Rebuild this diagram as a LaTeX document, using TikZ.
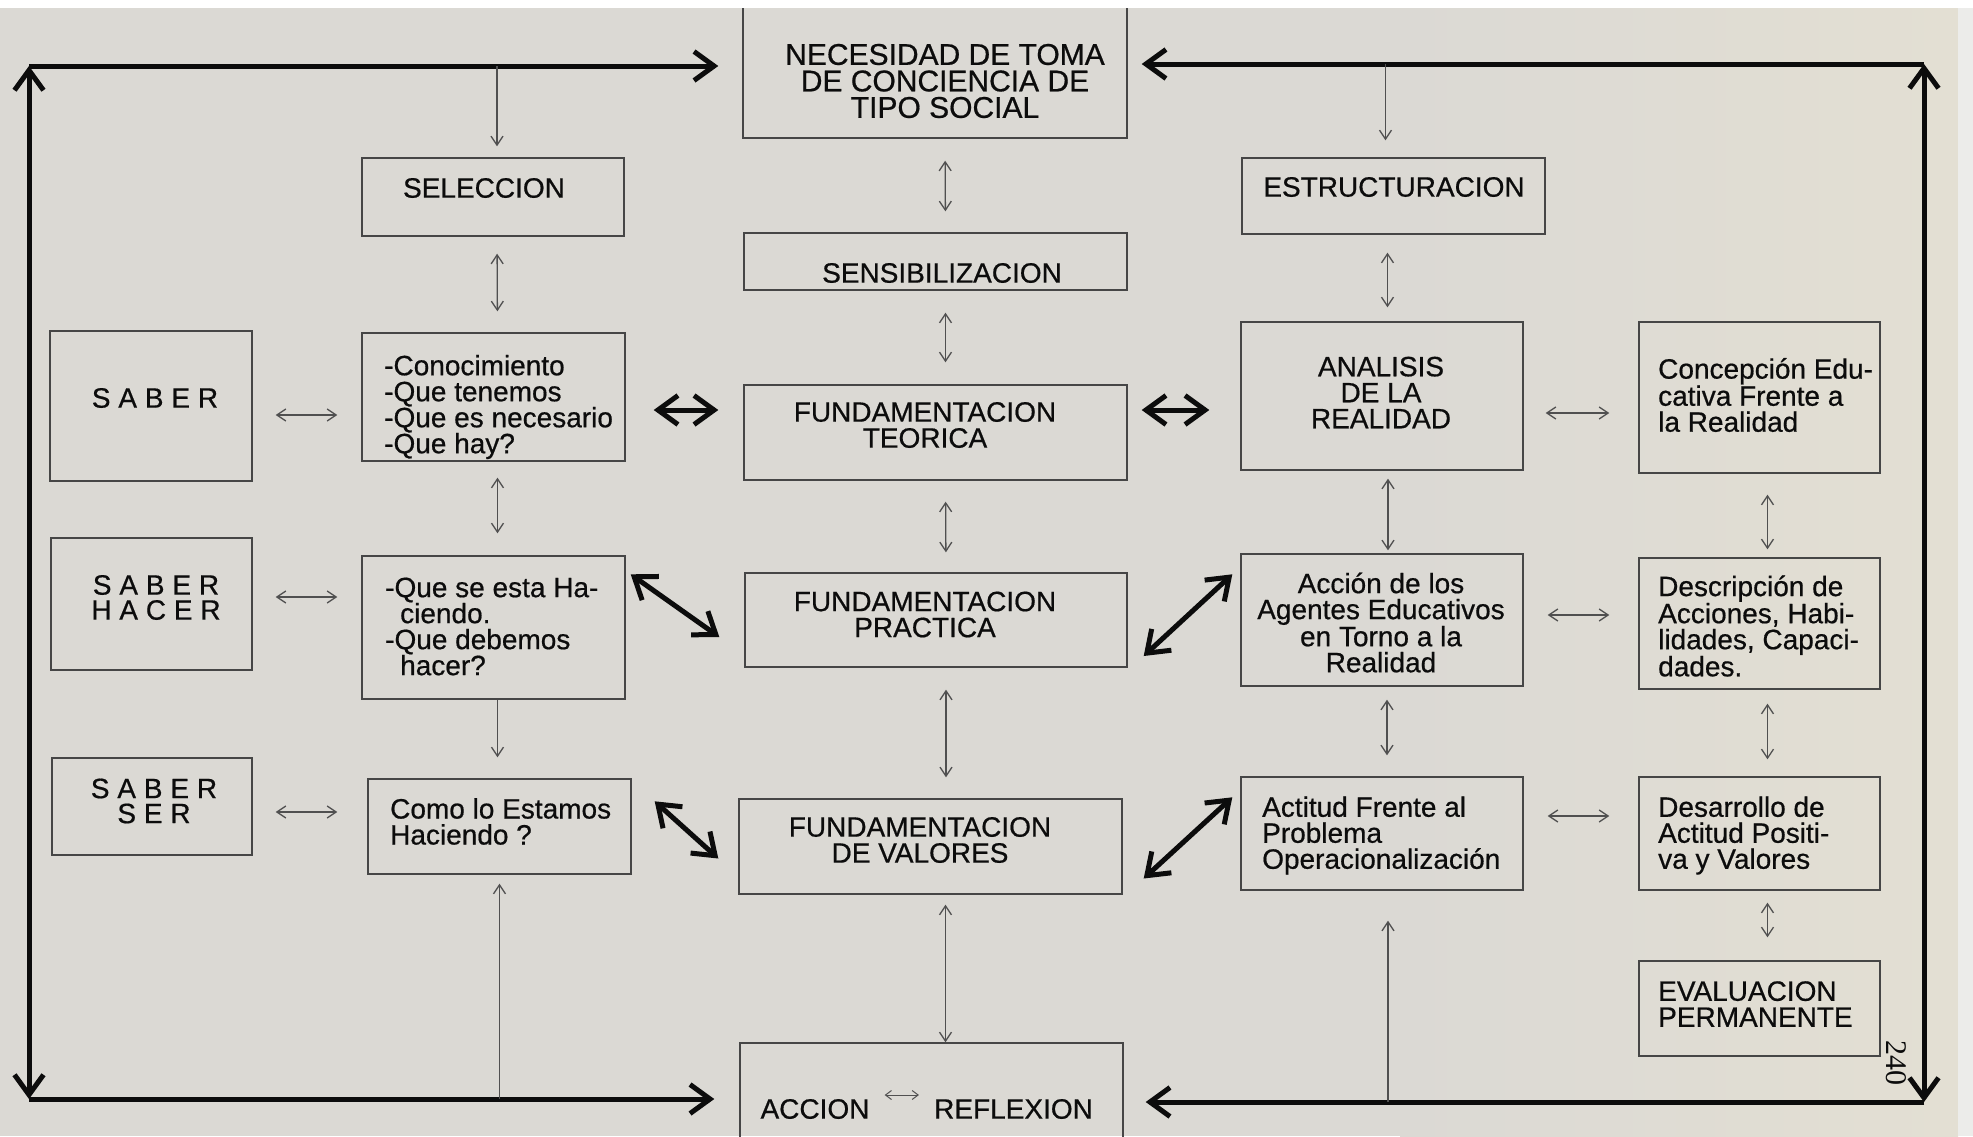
\documentclass[tikz,border=0pt]{standalone}
\usepackage{fontspec}
\setmainfont{Liberation Sans}[FakeBold=0.6]
\newfontfamily\pagenumfont{Liberation Serif}
\usetikzlibrary{arrows.meta}
\definecolor{paper}{RGB}{219,217,212}
\definecolor{papercream}{RGB}{227,223,211}
\definecolor{paperedge}{RGB}{236,236,234}
\definecolor{boxline}{RGB}{70,70,70}
\definecolor{linkgray}{RGB}{80,80,80}
\definecolor{ink}{RGB}{12,12,12}

\begin{document}
\begin{tikzpicture}[
  x=1pt, y=-1pt,
  box/.style={rectangle, draw=boxline, line width=1.4pt, inner sep=0pt},
  boxtxt/.style={text=ink, inner sep=0pt, align=center,
    font=\fontsize{28}{26}\selectfont},
  lefttxt/.style={boxtxt, align=left, anchor=west},
  spaced/.style={boxtxt, font=\fontsize{28}{25}\selectfont\addfontfeature{LetterSpace=28}},
  link/.style={draw=linkgray, line width=1.3pt,
    >={Straight Barb[length=9pt,width=12pt]}},
  smalllink/.style={draw=linkgray, line width=1pt,
    >={Straight Barb[length=6pt,width=9pt]}},
  biglink/.style={draw=ink, line width=5pt,
    >={Straight Barb[length=20pt,width=29pt]}}
]
  \useasboundingbox (0,0) rectangle (1973,1136);
  \clip (0,0) rectangle (1973,1136);
  % paper
  \fill[paper] (0,0) rectangle (1973,1136);
  \shade[left color=paper, right color=papercream] (1400,0) rectangle (1958,1136);
  \fill[paperedge] (1958,0) rectangle (1973,1136);

  % centre column
  \node[box, minimum width=384pt, minimum height=134pt] (nec) at (935,71) {};
  \node[boxtxt, font=\fontsize{30}{26.5}\selectfont] (nec-t) at (945,81)
    {NECESIDAD DE TOMA\\DE CONCIENCIA DE\\TIPO SOCIAL};
  \node[box, minimum width=383pt, minimum height=57pt] (sens) at (935.5,261.5) {};
  \node[boxtxt] (sens-t) at (942,273) {SENSIBILIZACION};
  \node[box, minimum width=383pt, minimum height=95pt] (ft) at (935.5,432.5) {};
  \node[boxtxt] (ft-t) at (925,425) {FUNDAMENTACION\\TEORICA};
  \node[box, minimum width=382pt, minimum height=94pt] (fp) at (936,620) {};
  \node[boxtxt] (fp-t) at (925,614.5) {FUNDAMENTACION\\PRACTICA};
  \node[box, minimum width=383pt, minimum height=95pt] (fv) at (930.5,846.5) {};
  \node[boxtxt] (fv-t) at (920,840) {FUNDAMENTACION\\DE VALORES};
  \node[box, minimum width=383pt, minimum height=114pt] (accref) at (931.5,1100) {};
  \node[boxtxt] (accion-t) at (815,1109) {ACCION};
  \node[boxtxt] (refl-t) at (1013.5,1109) {REFLEXION};

  % left columns
  \node[box, minimum width=262pt, minimum height=78pt] (sel) at (493,197) {};
  \node[boxtxt] (sel-t) at (484,188) {SELECCION};
  \node[box, minimum width=263pt, minimum height=128pt] (conoc) at (493.5,397) {};
  \node[lefttxt] (conoc-t) at (384,407)
    {-Conocimiento\\-Que tenemos\\-Que es necesario\\-Que hay?};
  \node[box, minimum width=263pt, minimum height=143pt] (queh) at (493.5,627.5) {};
  \node[lefttxt] (queh-t) at (385,626.5)
    {-Que se esta Ha-\\\hspace*{15pt}ciendo.\\-Que debemos\\\hspace*{15pt}hacer?};
  \node[box, minimum width=263pt, minimum height=95pt] (como) at (499.5,826.5) {};
  \node[lefttxt] (como-t) at (390,821.5) {Como lo Estamos\\Haciendo ?};
  \node[box, minimum width=202pt, minimum height=150pt] (saber) at (151,406) {};
  \node[spaced] (saber-t) at (155,398) {SABER};
  \node[box, minimum width=201pt, minimum height=132pt] (saberh) at (151.5,604) {};
  \node[spaced] (saberh-t) at (156,597.5) {SABER\\HACER};
  \node[box, minimum width=200pt, minimum height=97pt] (sabers) at (152,806.5) {};
  \node[spaced] (sabers-t) at (154,801) {SABER\\SER};

  % right columns
  \node[box, minimum width=303pt, minimum height=76pt] (estr) at (1393.5,196) {};
  \node[boxtxt] (estr-t) at (1394,187) {ESTRUCTURACION};
  \node[box, minimum width=282pt, minimum height=148pt] (anal) at (1382,396) {};
  \node[boxtxt] (anal-t) at (1381,392.5) {ANALISIS\\DE LA\\REALIDAD};
  \node[box, minimum width=282pt, minimum height=132pt] (acc) at (1382,620) {};
  \node[boxtxt] (acc-t) at (1381,622.5)
    {Acción de los\\Agentes Educativos\\en Torno a la\\Realidad};
  \node[box, minimum width=282pt, minimum height=113pt] (act) at (1382,833.5) {};
  \node[lefttxt] (act-t) at (1262,835.5)
    {Actitud Frente al\\Problema\\Operacionalización};
  \node[box, minimum width=241pt, minimum height=151pt] (conc) at (1759.5,397.5) {};
  \node[lefttxt] (conc-t) at (1658,395)
    {Concepción Edu-\\cativa Frente a\\la Realidad};
  \node[box, minimum width=241pt, minimum height=131pt] (descr) at (1759.5,623.5) {};
  \node[lefttxt] (descr-t) at (1658,626)
    {Descripción de\\Acciones, Habi-\\lidades, Capaci-\\dades.};
  \node[box, minimum width=241pt, minimum height=113pt] (desar) at (1759.5,833.5) {};
  \node[lefttxt] (desar-t) at (1658,835.5)
    {Desarrollo de\\Actitud Positi-\\va y Valores};
  \node[box, minimum width=241pt, minimum height=95pt] (eval) at (1759.5,1008.5) {};
  \node[lefttxt] (eval-t) at (1658,1004) {EVALUACION\\PERMANENTE};

  \node[text=ink, inner sep=0pt, rotate=-90,
    font=\pagenumfont\fontsize{30}{30}\selectfont] (pagenum) at (1896,1063) {240};

  % frame
  \coordinate (tl) at (29,66);
  \coordinate (tr) at (1924,64);
  \coordinate (bl) at (29,1099);
  \coordinate (br) at (1924,1102);
  \draw[biglink, <->] (bl) -- (tl);
  \draw[biglink, <->] (br) -- (tr);
  \draw[biglink, ->, shorten >=24pt] (tl) -- (nec.west |- tl);
  \draw[biglink, ->, shorten >=14pt] (tr) -- (nec.east |- tr);
  \draw[biglink, ->, shorten >=25pt] (bl) -- (accref.west |- bl);
  \draw[biglink, ->, shorten >=22pt] (br) -- (accref.east |- br);

  % thin links, left
  \draw[link, ->, shorten >=11pt] ([xshift=4pt]sel.north |- tl) -- ([xshift=4pt]sel.north);
  \draw[link, <->, shorten <=17pt, shorten >=21pt] ([xshift=4pt]sel.south) -- ([xshift=4pt]conoc.north);
  \draw[link, <->, shorten <=16pt, shorten >=22pt] ([xshift=4pt]conoc.south) -- ([xshift=4pt]queh.north);
  \draw[link, ->, shorten >=21pt] ([xshift=4pt]queh.south) -- ([xshift=4pt]queh.south |- como.north);
  \draw[link, ->, shorten >=9pt] (como.south |- bl) -- (como.south);
  \draw[link, <->, shorten <=23pt, shorten >=24pt] (saber.east |- 0,415) -- (conoc.west |- 0,415);
  \draw[link, <->, shorten <=23pt, shorten >=24pt] (saberh.east |- 0,597) -- (queh.west |- 0,597);
  \draw[link, <->, shorten <=23pt, shorten >=30pt] (sabers.east |- 0,812) -- (como.west |- 0,812);

  % thin links, centre
  \draw[link, <->, shorten <=22pt, shorten >=21pt] ([xshift=10pt]nec.south) -- ([xshift=10pt]sens.north);
  \draw[link, <->, shorten <=22pt, shorten >=22pt] ([xshift=10pt]sens.south) -- ([xshift=10pt]ft.north);
  \draw[link, <->, shorten <=21pt, shorten >=20pt] ([xshift=10pt]ft.south) -- ([xshift=10pt]fp.north);
  \draw[link, <->, shorten <=22pt, shorten >=21pt] ([xshift=10pt]fp.south) -- ([xshift=10pt]fp.south |- fv.north);
  \draw[link, <->, shorten <=10pt] ([xshift=15pt]fv.south) -- ([xshift=15pt]fv.south |- accref.north);
  \draw[smalllink, <->, shorten <=15pt, shorten >=15pt] (accion-t.east |- 0,1095) -- (refl-t.west |- 0,1095);

  % thin links, right
  \draw[link, ->, shorten >=17pt] ([xshift=-8pt]estr.north |- tr) -- ([xshift=-8pt]estr.north);
  \draw[link, <->, shorten <=18pt, shorten >=14pt] ([xshift=-6pt]estr.south) -- ([xshift=-6pt]estr.south |- anal.north);
  \draw[link, <->, shorten <=8pt, shorten >=3pt] ([xshift=6pt]anal.south) -- ([xshift=6pt]acc.north);
  \draw[link, <->, shorten <=13pt, shorten >=21pt] ([xshift=5pt]acc.south) -- ([xshift=5pt]act.north);
  \draw[link, ->, shorten >=30pt] ([xshift=6pt]act.south |- br) -- ([xshift=6pt]act.south);
  \draw[link, <->, shorten <=21pt, shorten >=8pt] ([xshift=8pt]conc.south) -- ([xshift=8pt]descr.north);
  \draw[link, <->, shorten <=14pt, shorten >=17pt] ([xshift=8pt]descr.south) -- ([xshift=8pt]desar.north);
  \draw[link, <->, shorten <=12pt, shorten >=23pt] ([xshift=8pt]desar.south) -- ([xshift=8pt]eval.north);
  \draw[link, <->, shorten <=22pt, shorten >=29pt] (anal.east |- 0,413) -- (conc.west |- 0,413);
  \draw[link, <->, shorten <=24pt, shorten >=29pt] (acc.east |- 0,615) -- (descr.west |- 0,615);
  \draw[link, <->, shorten <=24pt, shorten >=29pt] (act.east |- 0,816) -- (desar.west |- 0,816);

  % bold links
  \draw[biglink, <->, shorten <=28pt, shorten >=25pt] (conoc.east |- 0,410) -- (ft.west |- 0,410);
  \draw[biglink, <->, shorten <=14pt, shorten >=31pt] (ft.east |- 0,410) -- (anal.west |- 0,410);
  \draw[biglink, <->] ([shift={(5,19)}]queh.north east) -- ([shift={(-25,17)}]fp.west);
  \draw[biglink, <->] ([shift={(23,23)}]como.north east) -- ([shift={(-20,12)}]fv.west);
  \draw[biglink, <->] ([shift={(16,36)}]fp.east) -- ([shift={(-8,21)}]acc.north west);
  \draw[biglink, <->] ([shift={(21,32)}]fv.east) -- ([shift={(-8,21)}]act.north west);

  % scan edge
  \fill[white] (0,0) rectangle (1973,8);
\end{tikzpicture}
\end{document}
